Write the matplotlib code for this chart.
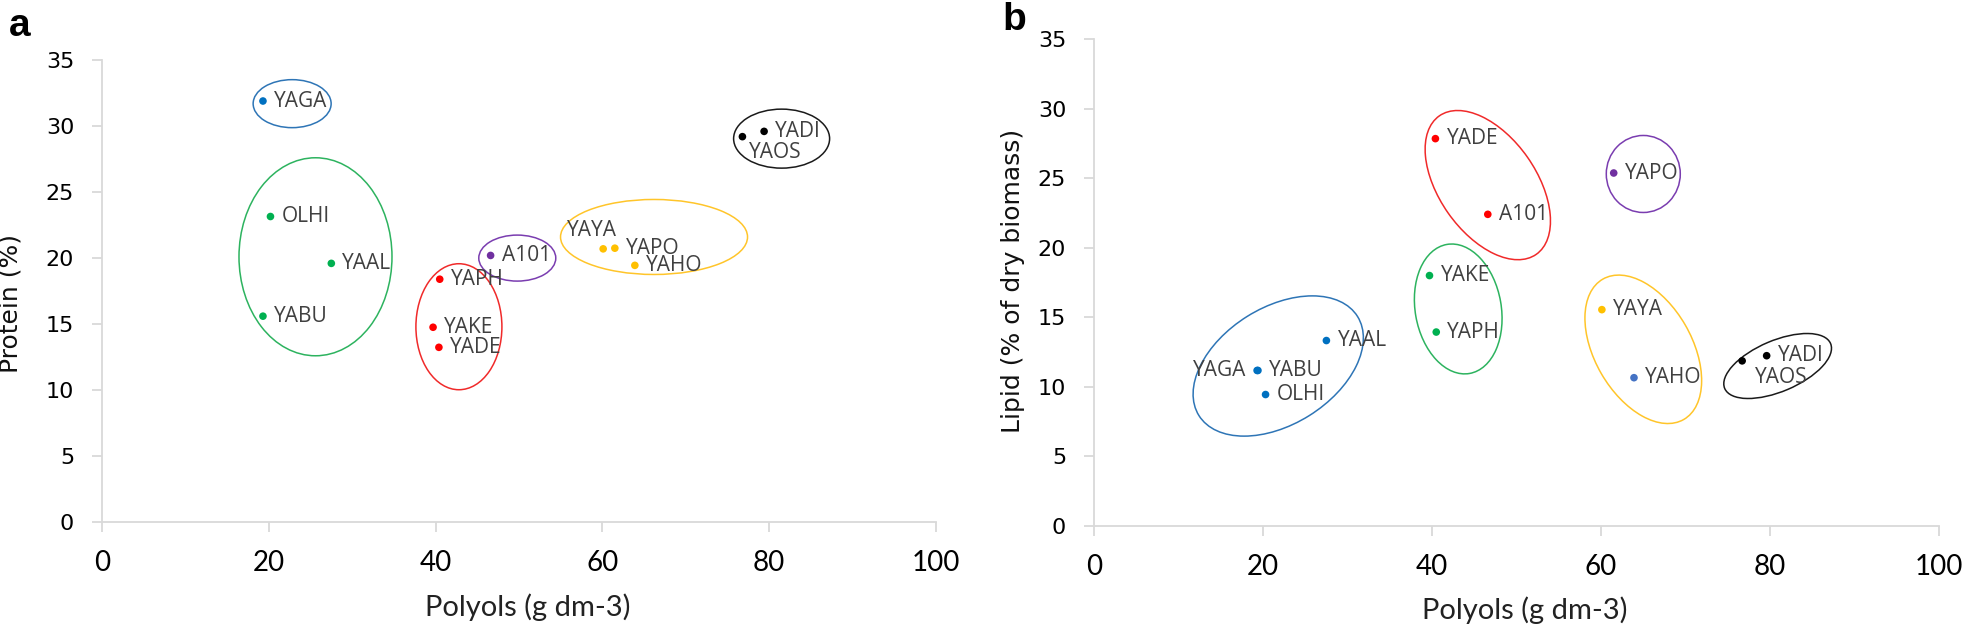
import matplotlib
matplotlib.use('Agg')
import matplotlib.pyplot as plt
from matplotlib.patches import Ellipse
from matplotlib.transforms import ScaledTranslation

# Panel a: polyols vs protein
strains_a = ['YAGA', 'OLHI', 'YAAL', 'YABU', 'YAPH', 'YAKE', 'YADE', 'A101',
             'YAYA', 'YAPO', 'YAHO', 'YAOS', 'YADI']
polyols_a = [19.3, 20.2, 27.5, 19.3, 40.5, 39.7, 40.4, 46.6, 60.1, 61.5, 63.9, 76.8, 79.4]
protein_a = [31.9, 23.15, 19.6, 15.6, 18.4, 14.76, 13.24, 20.2, 20.7, 20.75, 19.45, 29.2, 29.6]
group_a = ['blue', 'green', 'green', 'green', 'red', 'red', 'red', 'purple',
           'gold', 'gold', 'gold', 'black', 'black']

# Panel b: polyols vs lipid
strains_b = ['YADE', 'A101', 'YAPO', 'YAKE', 'YAPH', 'YAYA', 'YAHO', 'YAAL',
             'YABU', 'YAGA', 'OLHI', 'YAOS', 'YADI']
polyols_b = [40.4, 46.6, 61.5, 39.7, 40.5, 60.1, 63.9, 27.5, 19.4, 19.3, 20.3, 76.7, 79.6]
lipid_b = [27.84, 22.4, 25.37, 18.0, 13.94, 15.55, 10.66, 13.33, 11.18, 11.18, 9.45, 11.87, 12.24]
group_b = ['red', 'red', 'purple', 'green', 'green', 'gold', 'lightblue', 'blue',
           'blue', 'blue', 'blue', 'black', 'black']

x_ticks = [0, 20, 40, 60, 80, 100]
y_ticks = [0, 5, 10, 15, 20, 25, 30, 35]

dot_colors = {'blue': '#0070C0', 'green': '#00B050', 'red': '#FF0000', 'purple': '#7030A0',
              'gold': '#FFC000', 'black': '#000000', 'lightblue': '#4472C4'}
ring_colors = {'blue': '#2E75B6', 'green': '#2DB35F', 'red': '#F02A2A', 'purple': '#7A3DB0',
               'gold': '#FFC52A', 'black': '#1A1A1A'}

# cluster rings: centre (data), width/height in pixels, angle in degrees
rings_a = [('blue', 22.8, 31.7, 78, 48, 0), ('green', 25.6, 20.1, 153, 198, 0),
           ('red', 42.8, 14.8, 86, 126, 0), ('purple', 49.8, 20.0, 77, 46, 0),
           ('gold', 66.2, 21.6, 187, 75, 0), ('black', 81.5, 29.05, 96, 59, 0)]
rings_b = [('red', 46.6, 24.5, 169, 97, -55), ('purple', 65.0, 25.3, 74, 77, 0),
           ('green', 43.1, 15.6, 131, 86, 100), ('blue', 21.8, 11.5, 187, 117, 32),
           ('gold', 65.0, 12.7, 162, 97, -60), ('black', 80.9, 11.5, 115, 51, 23)]

# label offsets in points (dx, dy, ha), default right of the dot
label_pos_a = {'YAYA': (-8, 13, 'center'), 'YAOS': (5, -11.5, 'left')}
label_pos_b = {'YAGA': (-8, 0, 'right'), 'YAOS': (9.5, -12, 'left')}

DPI = 100
fig = plt.figure(figsize=(19.62, 6.26), dpi=DPI)
ax_a = fig.add_axes([0.052, 0.166, 0.425, 0.738])
ax_b = fig.add_axes([0.5576, 0.1597, 0.4307, 0.778])

narrow = ['Liberation Sans Narrow', 'Lato', 'DejaVu Sans']


def ring(ax, col, cx, cy, w, h, ang):
    tr = fig.dpi_scale_trans + ScaledTranslation(cx, cy, ax.transData)
    ax.add_patch(Ellipse((0, 0), w / DPI, h / DPI, angle=ang, transform=tr,
                         fill=False, ec=ring_colors[col], lw=1.1, clip_on=False))


def panel(ax, names, xs, ys, groups, rings, label_pos, ylabel, ylab_x, ylab_y, xlab_y):
    ax.scatter(xs, ys, s=30, c=[dot_colors[g] for g in groups], zorder=3, linewidths=0)
    for n, x, y in zip(names, xs, ys):
        dx, dy, ha = label_pos.get(n, (8, 0, 'left'))
        ax.annotate(n, (x, y), xytext=(dx, dy), textcoords='offset points',
                    ha=ha, va='center', fontsize=15, color='#404040', family='Open Sans')
    for r in rings:
        ring(ax, *r)
    ax.set_xlim(0, 100)
    ax.set_ylim(0, 35)
    ax.set_xticks(x_ticks)
    ax.set_yticks(y_ticks)
    for s in ['top', 'right']:
        ax.spines[s].set_visible(False)
    for s in ['left', 'bottom']:
        ax.spines[s].set_color('#D9D9D9')
        ax.spines[s].set_linewidth(1.3)
    ax.tick_params(axis='both', color='#D9D9D9', length=7, width=1.3)
    ax.tick_params(axis='y', pad=13, labelsize=16)
    ax.tick_params(axis='x', pad=13)
    for t in ax.get_xticklabels():
        t.set_fontfamily(narrow)
        t.set_fontsize(20)
    ax.set_xlabel('Polyols (g dm-3)', fontsize=21, family=narrow, color='#222222')
    ax.xaxis.set_label_coords(0.51, xlab_y)
    ax.set_ylabel(ylabel, fontsize=18, color='#111111')
    ax.yaxis.set_label_coords(ylab_x, ylab_y)


panel(ax_a, strains_a, polyols_a, protein_a, group_a, rings_a, label_pos_a,
      'Protein (%)', -0.095, 0.474, -0.155)
panel(ax_b, strains_b, polyols_b, lipid_b, group_b, rings_b, label_pos_b,
      'Lipid (% of dry biomass)', -0.082, 0.503, -0.144)

fig.text(9 / 1962, 1 - 36 / 626, 'a', fontsize=28, fontweight='bold', family='Liberation Sans')
fig.text(1002 / 1962, 1 - 30 / 626, 'b', fontsize=28, fontweight='bold', family='Liberation Sans')

fig.savefig('out.png', dpi=DPI)
